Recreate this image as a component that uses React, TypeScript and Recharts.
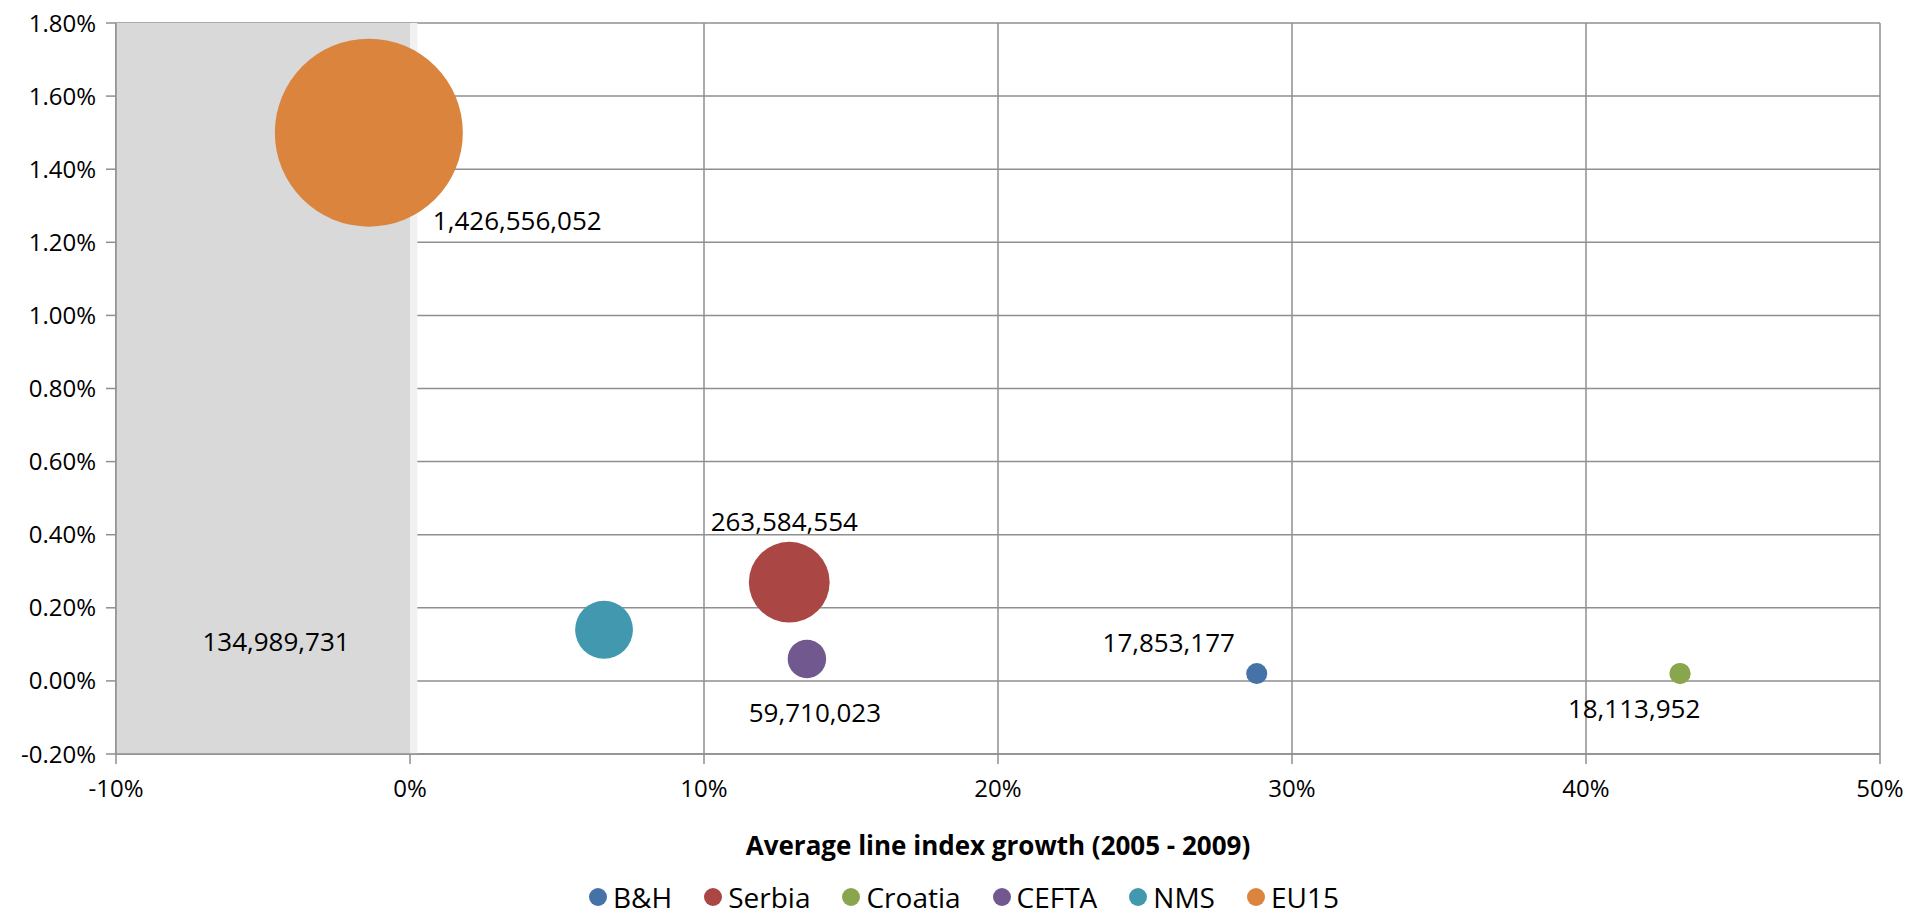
import {
    CartesianGrid,
    Label,
    Legend,
    ReferenceArea,
    Scatter,
    ScatterChart,
    XAxis,
    YAxis,
    ZAxis,
} from "recharts";

const regions = ["B&H", "Serbia", "Croatia", "CEFTA", "NMS", "EU15"];
const lineGrowth = [28.8, 12.9, 43.2, 13.5, 6.6, -1.4];
const yValues = [0.02, 0.27, 0.02, 0.06, 0.14, 1.5];
const population = [17853177, 263584554, 18113952, 59710023, 134989731, 1426556052];
const xTicks = [-10, 0, 10, 20, 30, 40, 50];
const yTicks = [-0.2, 0, 0.2, 0.4, 0.6, 0.8, 1.0, 1.2, 1.4, 1.6, 1.8];

const colors = ["#4572a7", "#aa4643", "#89a54e", "#71588f", "#4198af", "#db843d"];

// where each bubble's label sits, relative to the bubble centre
const labelOffsets: Record<string, { dx: number; dy: number; anchor: "start" | "middle" | "end" }> = {
    "B&H": { dx: -88, dy: -32, anchor: "middle" },
    Serbia: { dx: -5, dy: -61, anchor: "middle" },
    Croatia: { dx: -46, dy: 34, anchor: "middle" },
    CEFTA: { dx: 8, dy: 53, anchor: "middle" },
    NMS: { dx: -328, dy: 11, anchor: "middle" },
    EU15: { dx: 64, dy: 87, anchor: "start" },
};

const FONT = "'Open Sans', sans-serif";
const GRID = "#8f8f8f";

const series = regions.map((name, i) => ({
    name,
    color: colors[i],
    data: [{ x: lineGrowth[i], y: yValues[i], z: population[i] }],
}));

const fmtPop = (v: number) => v.toLocaleString("en-US");

function bubbleShape(name: string, color: string) {
    return (props: any) => {
        const { cx, cy, width, payload } = props;
        const off = labelOffsets[name];
        return (
            <g>
                <circle cx={cx} cy={cy} r={width / 2} fill={color} />
                <text
                    x={cx + off.dx}
                    y={cy + off.dy}
                    textAnchor={off.anchor}
                    dominantBaseline="central"
                    fontSize={26}
                    fontFamily={FONT}
                    fill="#000"
                >
                    {fmtPop(payload.z)}
                </text>
            </g>
        );
    };
}

function LegendRow() {
    return (
        <div
            style={{
                display: "flex",
                justifyContent: "center",
                alignItems: "center",
                gap: 32,
                fontFamily: FONT,
                fontSize: 28,
                lineHeight: "30px",
                color: "#000",
                height: 40,
                paddingTop: 8,
                paddingLeft: 48,
                boxSizing: "border-box",
            }}
        >
            {series.map((s) => (
                <div key={s.name} style={{ display: "flex", alignItems: "center", gap: 6 }}>
                    <svg width={18} height={18}>
                        <circle cx={9} cy={9} r={9} fill={s.color} />
                    </svg>
                    <span>{s.name}</span>
                </div>
            ))}
        </div>
    );
}

export default function App() {
    return (
        <div style={{ position: "absolute", left: 0, top: 0, background: "#fff" }}>
            <ScatterChart width={1909} height={913} margin={{ top: 23, right: 29, bottom: 0, left: 0 }}>
                <ReferenceArea x1={-10} x2={0} y1={-0.2} y2={1.8} fill="#d9d9d9" fillOpacity={1} stroke="none" />
                <ReferenceArea x1={0} x2={0.25} y1={-0.2} y2={1.8} fill="#f1f1f1" fillOpacity={1} stroke="none" />
                <CartesianGrid stroke={GRID} strokeWidth={1.5} />
                <XAxis
                    type="number"
                    dataKey="x"
                    domain={[-10, 50]}
                    ticks={xTicks}
                    tickFormatter={(v) => `${v}%`}
                    height={119}
                    tickSize={10}
                    tickMargin={16}
                    stroke={GRID}
                    strokeWidth={1.5}
                    tick={{ fill: "#000", fontSize: 24, fontFamily: FONT }}
                >
                    <Label
                        value="Average line index growth (2005 - 2009)"
                        position="insideBottom"
                        offset={18}
                        style={{ fontWeight: 700, fontSize: 26, fill: "#000", fontFamily: FONT }}
                    />
                </XAxis>
                <YAxis
                    type="number"
                    dataKey="y"
                    domain={[-0.2, 1.8]}
                    ticks={yTicks}
                    tickFormatter={(v) => `${v.toFixed(2)}%`}
                    width={116}
                    tickSize={10}
                    tickMargin={10}
                    stroke={GRID}
                    strokeWidth={1.5}
                    tick={{ fill: "#000", fontSize: 24, fontFamily: FONT }}
                />
                <ZAxis type="number" dataKey="z" domain={[0, 1426556052]} range={[0, 27760]} />
                <Legend verticalAlign="bottom" height={40} content={() => <LegendRow />} />
                {series.map((s) => (
                    <Scatter
                        key={s.name}
                        name={s.name}
                        data={s.data}
                        fill={s.color}
                        shape={bubbleShape(s.name, s.color)}
                        isAnimationActive={false}
                    />
                ))}
            </ScatterChart>
        </div>
    );
}
